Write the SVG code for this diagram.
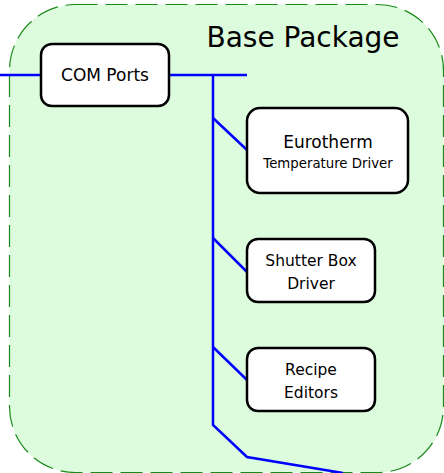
<svg xmlns="http://www.w3.org/2000/svg" width="444" height="473" viewBox="0 0 444 473">
<style>
.pkg{fill:#ddfcdd;stroke:#1a8a1a;stroke-width:1.2;stroke-dasharray:22 8}
.box{fill:#fff;stroke:#000;stroke-width:2.5}
.t{font-family:"DejaVu Sans","Liberation Sans",sans-serif;fill:#000;text-anchor:middle}
.c{fill:none;stroke:#0000ff;stroke-width:2.5}
</style>
<g id="base-package">
<rect class="pkg" x="9.5" y="4.5" width="434" height="468" rx="66" ry="66"/>
<text class="t" x="303" y="47" font-size="28">Base Package</text>
</g>
<g id="connectors">
<path class="c" d="M0 75H40"/>
<path class="c" d="M169 75H247"/>
<path class="c" d="M213 75V425L247 457L343 473"/>
<path class="c" d="M213 118L247 150"/>
<path class="c" d="M213 238L247 272"/>
<path class="c" d="M213 347L247 380"/>
</g>
<g id="com-ports">
<rect class="box" x="41" y="44" width="128" height="62" rx="11"/>
<text class="t" x="105" y="81" font-size="17">COM Ports</text>
</g>
<g id="eurotherm">
<rect class="box" x="247" y="108" width="161" height="85" rx="13"/>
<text class="t" x="328" y="148" font-size="17">Eurotherm</text>
<text class="t" x="328" y="168" font-size="13.3">Temperature Driver</text>
</g>
<g id="shutter-box">
<rect class="box" x="247" y="239" width="128" height="63" rx="11"/>
<text class="t" x="311" y="266" font-size="15.5">Shutter Box</text>
<text class="t" x="311" y="289" font-size="15.5">Driver</text>
</g>
<g id="recipe-editors">
<rect class="box" x="247" y="348" width="128" height="63" rx="11"/>
<text class="t" x="311" y="375" font-size="15.5">Recipe</text>
<text class="t" x="311" y="398" font-size="15.5">Editors</text>
</g>
</svg>
